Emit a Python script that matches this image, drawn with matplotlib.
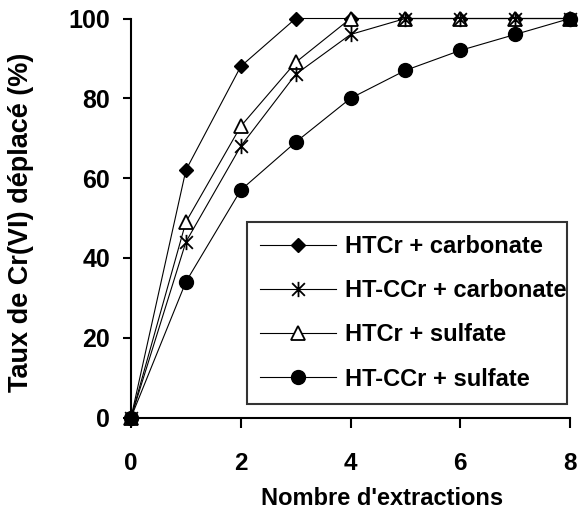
import matplotlib
matplotlib.use('Agg')
import matplotlib.pyplot as plt
from matplotlib.path import Path

# data
extractions = [0, 1, 2, 3, 4, 5, 6, 7, 8]
htcr_carbonate = [0, 62, 88, 100, 100, 100, 100, 100, 100]
htccr_carbonate = [0, 44, 68, 86, 96, 100, 100, 100, 100]
htcr_sulfate = [0, 49, 73, 89, 100, 100, 100, 100, 100]
htccr_sulfate = [0, 34, 57, 69, 80, 87, 92, 96, 100]
labels = ['HTCr + carbonate', 'HT-CCr + carbonate', 'HTCr + sulfate', 'HT-CCr + sulfate']
xticks = [0, 2, 4, 6, 8]
yticks = [0, 20, 40, 60, 80, 100]

plt.rcParams['font.family'] = ['Liberation Sans', 'DejaVu Sans']
plt.rcParams['font.weight'] = 'bold'

# excel-like star marker: X with a vertical bar
star = Path([(-1, -1), (1, 1), (-1, 1), (1, -1), (0, -1.2), (0, 1.2)],
            [Path.MOVETO, Path.LINETO, Path.MOVETO, Path.LINETO, Path.MOVETO, Path.LINETO])

fig = plt.figure(figsize=(5.8, 5.14), dpi=100)
ax = fig.add_axes([0.2259, 0.1877, 0.7569, 0.7763])

ax.plot(extractions, htcr_carbonate, color='k', lw=0.8, marker='D', ms=7,
        mfc='k', mec='k', label=labels[0], clip_on=False, zorder=3)
ax.plot(extractions, htccr_carbonate, color='k', lw=0.8, marker=star, ms=11,
        mfc='k', mec='k', mew=1.3, label=labels[1], clip_on=False, zorder=5)
ax.plot(extractions, htcr_sulfate, color='k', lw=0.8, marker='^', ms=10,
        mfc='white', mec='k', mew=1.3, label=labels[2], clip_on=False, zorder=4)
ax.plot(extractions, htccr_sulfate, color='k', lw=0.8, marker='o', ms=10,
        mfc='k', mec='k', label=labels[3], clip_on=False, zorder=6)

ax.set_xlim(0, 8)
ax.set_ylim(0, 100)
ax.set_xticks(xticks)
ax.set_yticks(yticks)
ax.spines['top'].set_visible(False)
ax.spines['right'].set_visible(False)
ax.spines['left'].set_linewidth(1.5)
ax.spines['bottom'].set_linewidth(1.5)
ax.tick_params(axis='x', direction='out', length=7, width=1.5, pad=18, labelsize=17.5)
ax.tick_params(axis='y', direction='out', length=6, width=1.5, pad=9, labelsize=18)

ax.set_xlabel("Nombre d'extractions", fontsize=17, fontweight='bold', va='center')
ax.xaxis.set_label_coords(0.572, -0.202)
ax.set_ylabel('Taux de Cr(VI) déplacé (%)', fontsize=19.5, fontweight='bold', va='center')
ax.yaxis.set_label_coords(-0.25, 0.49)

# legend box spans x 247..567, y 222..402 px in the reference
leg = ax.legend(loc='upper left',
                bbox_to_anchor=(247 / 580, 1 - 402 / 514, 320 / 580, 180 / 514),
                bbox_transform=fig.transFigure, mode='expand', fontsize=17, frameon=True,
                fancybox=False, edgecolor='k', handlelength=3.2, handletextpad=0.4,
                labelspacing=0.9, borderpad=0.55, borderaxespad=0)
leg.get_frame().set_linewidth(1.5)
leg.set_zorder(10)

fig.savefig('out.png', dpi=100)
